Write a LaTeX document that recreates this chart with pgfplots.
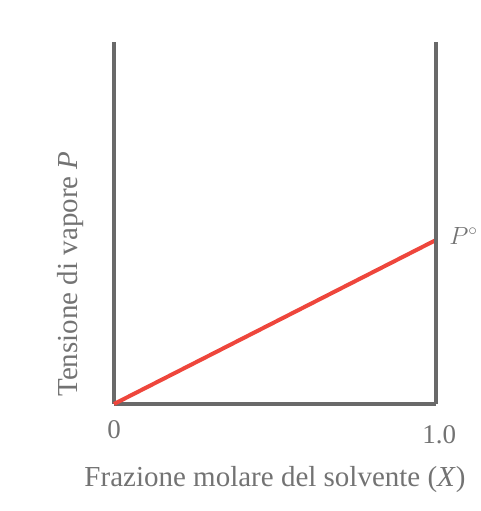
\documentclass[border=0pt]{standalone}
\usepackage{pgfplots}
\pgfplotsset{compat=1.18}
\usepackage{fontspec}
\setmainfont{Liberation Serif}
\definecolor{axisgrey}{RGB}{105,105,105}
\definecolor{textgrey}{RGB}{115,115,115}
\definecolor{linered}{RGB}{238,70,60}
\begin{document}
\begin{tikzpicture}[x=1pt,y=1pt]
\useasboundingbox (0,0) rectangle (481,511);
\begin{axis}[
    at={(114pt,107pt)}, anchor=south west,
    scale only axis, width=322pt, height=362pt,
    xmin=0, xmax=1, ymin=0, ymax=1,
    axis x line=bottom, axis y line=left,
    axis line style={-, line width=3.5pt, axisgrey},
    xtick=\empty, ytick=\empty,
    clip=false,
]
\addplot[linered, line width=4pt] coordinates {(0,0) (1,0.453)};
\draw[axisgrey, line width=3.5pt] (axis cs:1,0) -- (axis cs:1,1);
\node[textgrey, font=\fontsize{27}{29}\selectfont] at (axis cs:0,-0.07) {0};
\node[textgrey, font=\fontsize{27}{29}\selectfont] at (axis cs:1.01,-0.085) {1.0};
\node[textgrey, font=\fontsize{24}{26}\selectfont] at (axis cs:1.085,0.465) {$P^\circ$};
\end{axis}
\node[textgrey, font=\fontsize{29}{31}\selectfont, rotate=90] at (71,237) {Tensione di vapore \textit{P}};
\node[textgrey, font=\fontsize{29}{31}\selectfont] at (275,31) {Frazione molare del solvente (\textit{X})};
\end{tikzpicture}
\end{document}
